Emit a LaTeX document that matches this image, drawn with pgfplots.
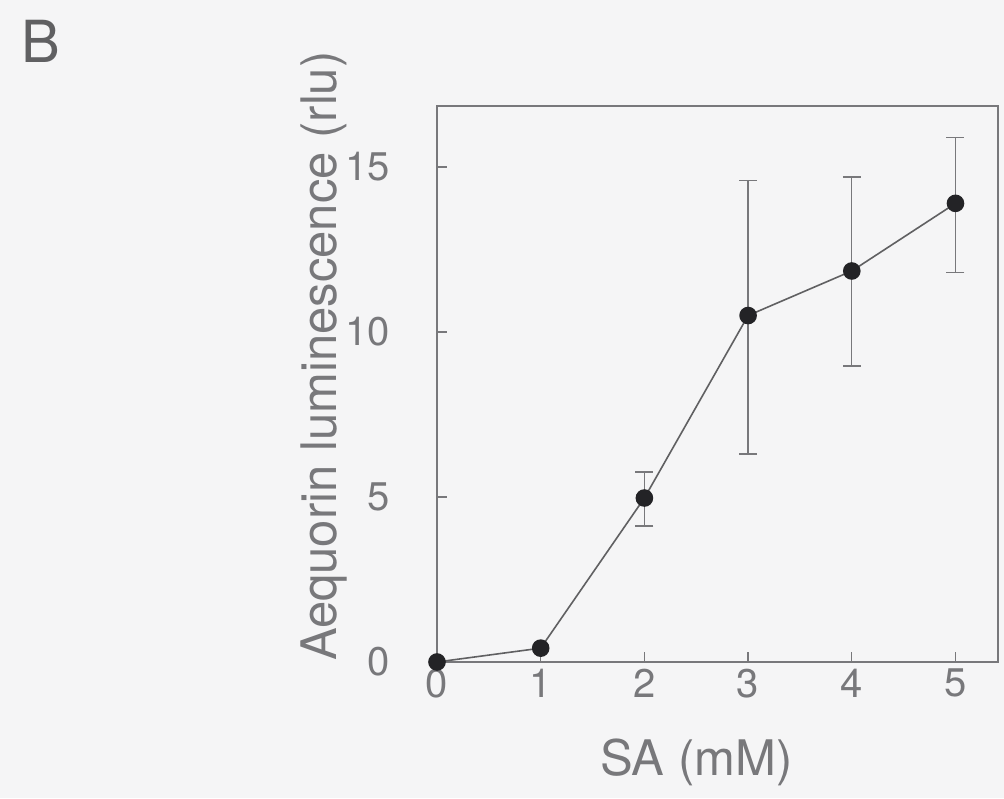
\documentclass[border=0pt]{standalone}
\usepackage{pgfplots}
\pgfplotsset{compat=1.18}
\usepackage{fontspec}
\setmainfont{TeX Gyre Heros}
\definecolor{bg}{RGB}{245,245,246}
\definecolor{ink}{RGB}{120,120,123}
\definecolor{dot}{RGB}{35,35,38}
\begin{document}
\begin{tikzpicture}
\path[use as bounding box, fill=bg] (-218.5pt,-68pt) rectangle (283.5pt,331pt);
\node[anchor=north west, text=ink!80!black, font=\fontsize{29}{33}\selectfont, inner sep=0pt] at (-208pt,321pt) {B};
\begin{axis}[
  at={(0,0)}, anchor=south west,
  width=280.5pt, height=278pt, scale only axis,
  xmin=0, xmax=5.41, ymin=0, ymax=16.85,
  clip=false,
  axis line style={ink, line width=0.8pt},
  xtick={0,1,2,3,4,5}, ytick={0,5,10,15},
  xtick pos=bottom, ytick pos=left,
  tick align=inside, major tick length=5pt,
  tick style={ink, line width=0.7pt},
  /pgf/number format/assume math mode=true,
  ticklabel style={text=ink, font=\fontsize{20}{24}\selectfont},
  xticklabel style={yshift=0pt},
  yticklabel style={xshift=-20pt},
  xlabel={SA (mM)}, ylabel={Aequorin luminescence (rlu)},
  label style={text=ink, font=\fontsize{24.5}{28}\selectfont},
  xlabel style={at={(axis description cs:0.462,0)}, anchor=north, yshift=-35pt},
  ylabel style={at={(axis description cs:-0.202,0.55)}, anchor=center},
]
\addplot[color=ink!80!black, line width=0.8pt, mark=*, mark size=4pt,
  mark options={fill=dot, draw=dot}]
coordinates {
  (0,0)
  (1,0.42)
  (2,4.97)
  (3,10.5)
  (4,11.85)
  (5,13.9)
};
\addplot[draw=none, mark=none, forget plot,
  error bars/.cd, y dir=both, y explicit,
  error bar style={ink, line width=0.7pt},
  error mark options={rotate=90, mark size=4.5pt, ink, line width=0.7pt}]
table[x=x, y=y, y error plus=ep, y error minus=em] {
x y ep em
2 4.97 0.79 0.85
3 10.5 4.1 4.2
4 11.85 2.85 2.88
5 13.9 2.0 2.1
};
\end{axis}
\end{tikzpicture}
\end{document}
